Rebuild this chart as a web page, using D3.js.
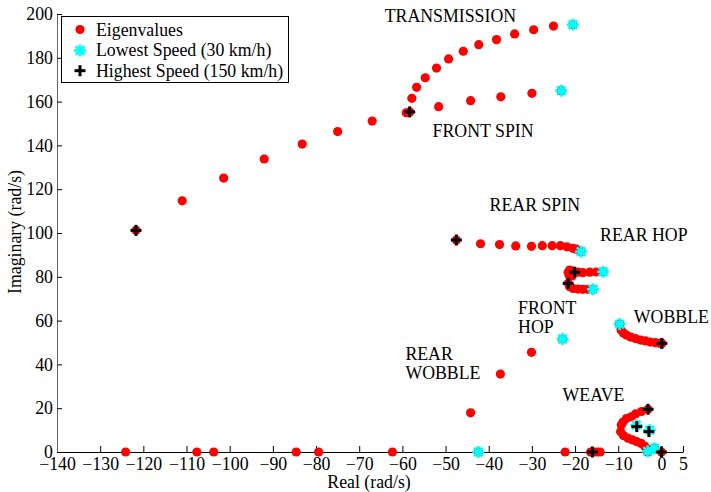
<!DOCTYPE html>
<html>
<head>
<meta charset="utf-8">
<script src="https://cdn.jsdelivr.net/npm/d3@7"></script>
<style>
body{margin:0;background:#fff;}
svg text{font-family:"Liberation Serif","Times New Roman",serif;}
</style>
</head>
<body>
<div id="chart"></div>
<script>
// eigenvalue loci, [real, imag] in rad/s, one array per mode
var transmission = [[-20.5,195.1],[-25.0,194.5],[-29.6,192.8],[-34.0,190.9],[-38.2,188.3],[-42.3,186.0],[-45.9,183.0],[-49.3,179.5],[-52.1,175.3],[-54.7,170.9],[-56.7,166.5],[-57.8,161.5],[-58.3,155.3]];
var frontSpin = [[-23.2,165.0],[-30.0,163.8],[-37.2,162.2],[-44.2,160.4],[-51.6,157.7],[-59.1,154.9],[-67.0,151.1],[-75.0,146.3],[-83.2,140.6],[-92.0,133.8],[-101.4,125.1],[-111.0,114.7],[-121.7,101.2]];
var rearSpin = [[-18.6,91.5],[-19.7,92.6],[-20.5,93.0],[-21.9,93.7],[-23.4,94.2],[-25.3,94.2],[-27.6,94.2],[-30.1,93.9],[-33.75,94.1],[-37.5,94.7],[-41.9,95.1],[-47.5,96.8]];
var rearHopUpper = [[-13.5,82.3],[-15.1,82.2],[-16.6,82.1],[-18.2,81.9],[-19.3,82.1],[-20.5,82.6],[-21.25,83.1],[-21.6,82.1],[-21.4,80.8],[-20.7,80.4],[-20.1,82.1]];
var rearHopLower = [[-15.85,74.3],[-17.0,74.3],[-18.2,74.3],[-19.3,74.4],[-20.5,74.7],[-21.25,75.5],[-21.6,77.0]];
var wobble = [[-9.7,58.4],[-9.35,55.7],[-8.8,54.3],[-8.1,53.4],[-7.1,52.5],[-6.0,51.8],[-4.8,51.1],[-3.7,50.7],[-2.55,50.2],[-1.4,49.9],[-0.3,49.6],[0.1,49.6]];
var weave = [[-3.1,19.5],[-4.6,18.5],[-6.0,17.4],[-7.0,16.1],[-8.1,15.3],[-8.9,13.7],[-9.3,12.3],[-9.45,9.3],[-8.8,7.5],[-7.75,6.3],[-6.7,5.5],[-5.7,4.7],[-4.7,3.9],[-3.9,2.7],[-3.3,1.4],[-3.1,0.1]];
var frontHop = [[-22.9,51.6],[-30.1,45.5],[-37.3,35.6],[-44.2,17.9]];
var realRoots = [[-124.1,0],[-107.6,0],[-103.7,0],[-84.6,0],[-79.4,0],[-62.3,0],[-42.4,0],[-22.3,0],[-16.4,0],[-15.6,0],[-14.9,0],[-14.2,0],[-3.2,0],[-1.6,1.7],[0,0]];

// speed extremes
var lowSpeed = [[-20.5,195.1],[-23.2,165.0],[-18.6,91.5],[-13.5,82.3],[-15.85,74.3],[-9.7,58.4],[-22.9,51.6],[-42.4,0],[-5.8,12.3],[-2.7,10.0],[-3.2,0.3],[-1.6,1.7]];
var highSpeed = [[-58.3,155.3],[-121.7,101.2],[-47.5,96.8],[-20.1,82.1],[-21.6,77.0],[0.1,49.6],[-3.1,19.5],[-5.7,11.6],[-2.9,9.3],[-16.0,0],[0,0]];

// tick labels
var xTicks = d3.range(-140, 1, 10).concat([5]);
var yTicks = d3.range(0, 201, 20);

// mode names, anchored at left/baseline in data units
var modeNames = ["TRANSMISSION","FRONT SPIN","REAR SPIN","REAR HOP","FRONT","HOP","WOBBLE","REAR","WOBBLE","WEAVE"];
var nameRe = [-64.1,-53.0,-39.8,-14.2,-33.2,-33.2,-6.4,-59.3,-59.3,-22.9];
var nameIm = [196.5,144.0,110.0,96.5,63.0,54.2,59.0,42.0,33.2,23.4];

var legendNames = ["Eigenvalues","Lowest Speed (30 km/h)","Highest Speed (150 km/h)"];

var W = 711, H = 492;
var fs = "17.8px";

var svg = d3.select("#chart").append("svg")
    .attr("width", W).attr("height", H);

var x = d3.scaleLinear().domain([-140, 5]).range([57, 683]);
var y = d3.scaleLinear().domain([0, 200]).range([452, 14]);

// axes
var gx = svg.append("g")
    .attr("transform", "translate(0,452)")
    .call(d3.axisBottom(x).tickValues(xTicks).tickSizeInner(-6).tickSizeOuter(0).tickPadding(5.5));
var gy = svg.append("g")
    .attr("transform", "translate(57,0)")
    .call(d3.axisLeft(y).tickValues(yTicks).tickSizeInner(-5).tickSizeOuter(0).tickPadding(4));
gx.selectAll("text").attr("font-size", fs).attr("font-family", null).attr("fill", "#000");
gy.selectAll("text").attr("font-size", fs).attr("font-family", null).attr("fill", "#000");
gx.selectAll("line,path").attr("stroke", "#000");
gy.selectAll("line").attr("stroke", "#000");
gy.select(".domain").attr("stroke", "#666");

svg.append("text")
    .attr("x", 369).attr("y", 488)
    .attr("text-anchor", "middle").attr("font-size", fs)
    .text("Real (rad/s)");
svg.append("text")
    .attr("transform", "translate(21,232) rotate(-90)")
    .attr("text-anchor", "middle").attr("font-size", fs)
    .text("Imaginary (rad/s)");

// marker helpers
function star(g, cx, cy){
    var r = 6;
    [0, 45, 90, 135].forEach(function(a){
        var dx = r*Math.cos(a*Math.PI/180), dy = r*Math.sin(a*Math.PI/180);
        g.append("line")
            .attr("x1", cx-dx).attr("y1", cy-dy).attr("x2", cx+dx).attr("y2", cy+dy)
            .attr("stroke", "#00ffff").attr("stroke-width", 2.6);
    });
}
function plus(g, cx, cy){
    var r = 5.5;
    g.append("line").attr("x1", cx-r).attr("x2", cx+r).attr("y1", cy).attr("y2", cy)
        .attr("stroke", "#000").attr("stroke-width", 3);
    g.append("line").attr("x1", cx).attr("x2", cx).attr("y1", cy-r).attr("y2", cy+r)
        .attr("stroke", "#000").attr("stroke-width", 3);
}

var eigen = [].concat(transmission, frontSpin, rearSpin, rearHopUpper, rearHopLower, wobble, weave, frontHop, realRoots);

svg.append("g").selectAll("circle")
    .data(eigen)
    .enter().append("circle")
    .attr("cx", function(d){ return x(d[0]); })
    .attr("cy", function(d){ return y(d[1]); })
    .attr("r", 4.6)
    .attr("fill", "#ff0000");

var gLow = svg.append("g");
lowSpeed.forEach(function(d){ star(gLow, x(d[0]), y(d[1])); });
var gHigh = svg.append("g");
highSpeed.forEach(function(d){ plus(gHigh, x(d[0]), y(d[1])); });

// mode labels
svg.append("g").selectAll("text")
    .data(modeNames)
    .enter().append("text")
    .attr("x", function(d, i){ return x(nameRe[i]); })
    .attr("y", function(d, i){ return y(nameIm[i]); })
    .attr("font-size", fs)
    .text(function(d){ return d; });

// legend
var lg = svg.append("g");
lg.append("rect").attr("x", 61.5).attr("y", 16.5).attr("width", 227).attr("height", 66)
    .attr("fill", "#fff").attr("stroke", "#000");
lg.append("circle").attr("cx", 80).attr("cy", 29.5).attr("r", 4.6).attr("fill", "#ff0000");
star(lg, 80, 50.5);
plus(lg, 80, 70.7);
lg.selectAll("text.leg")
    .data(legendNames)
    .enter().append("text")
    .attr("class", "leg")
    .attr("x", 96)
    .attr("y", function(d, i){ return 35.5 + i*20.7; })
    .attr("font-size", fs)
    .text(function(d){ return d; });
</script>
</body>
</html>
